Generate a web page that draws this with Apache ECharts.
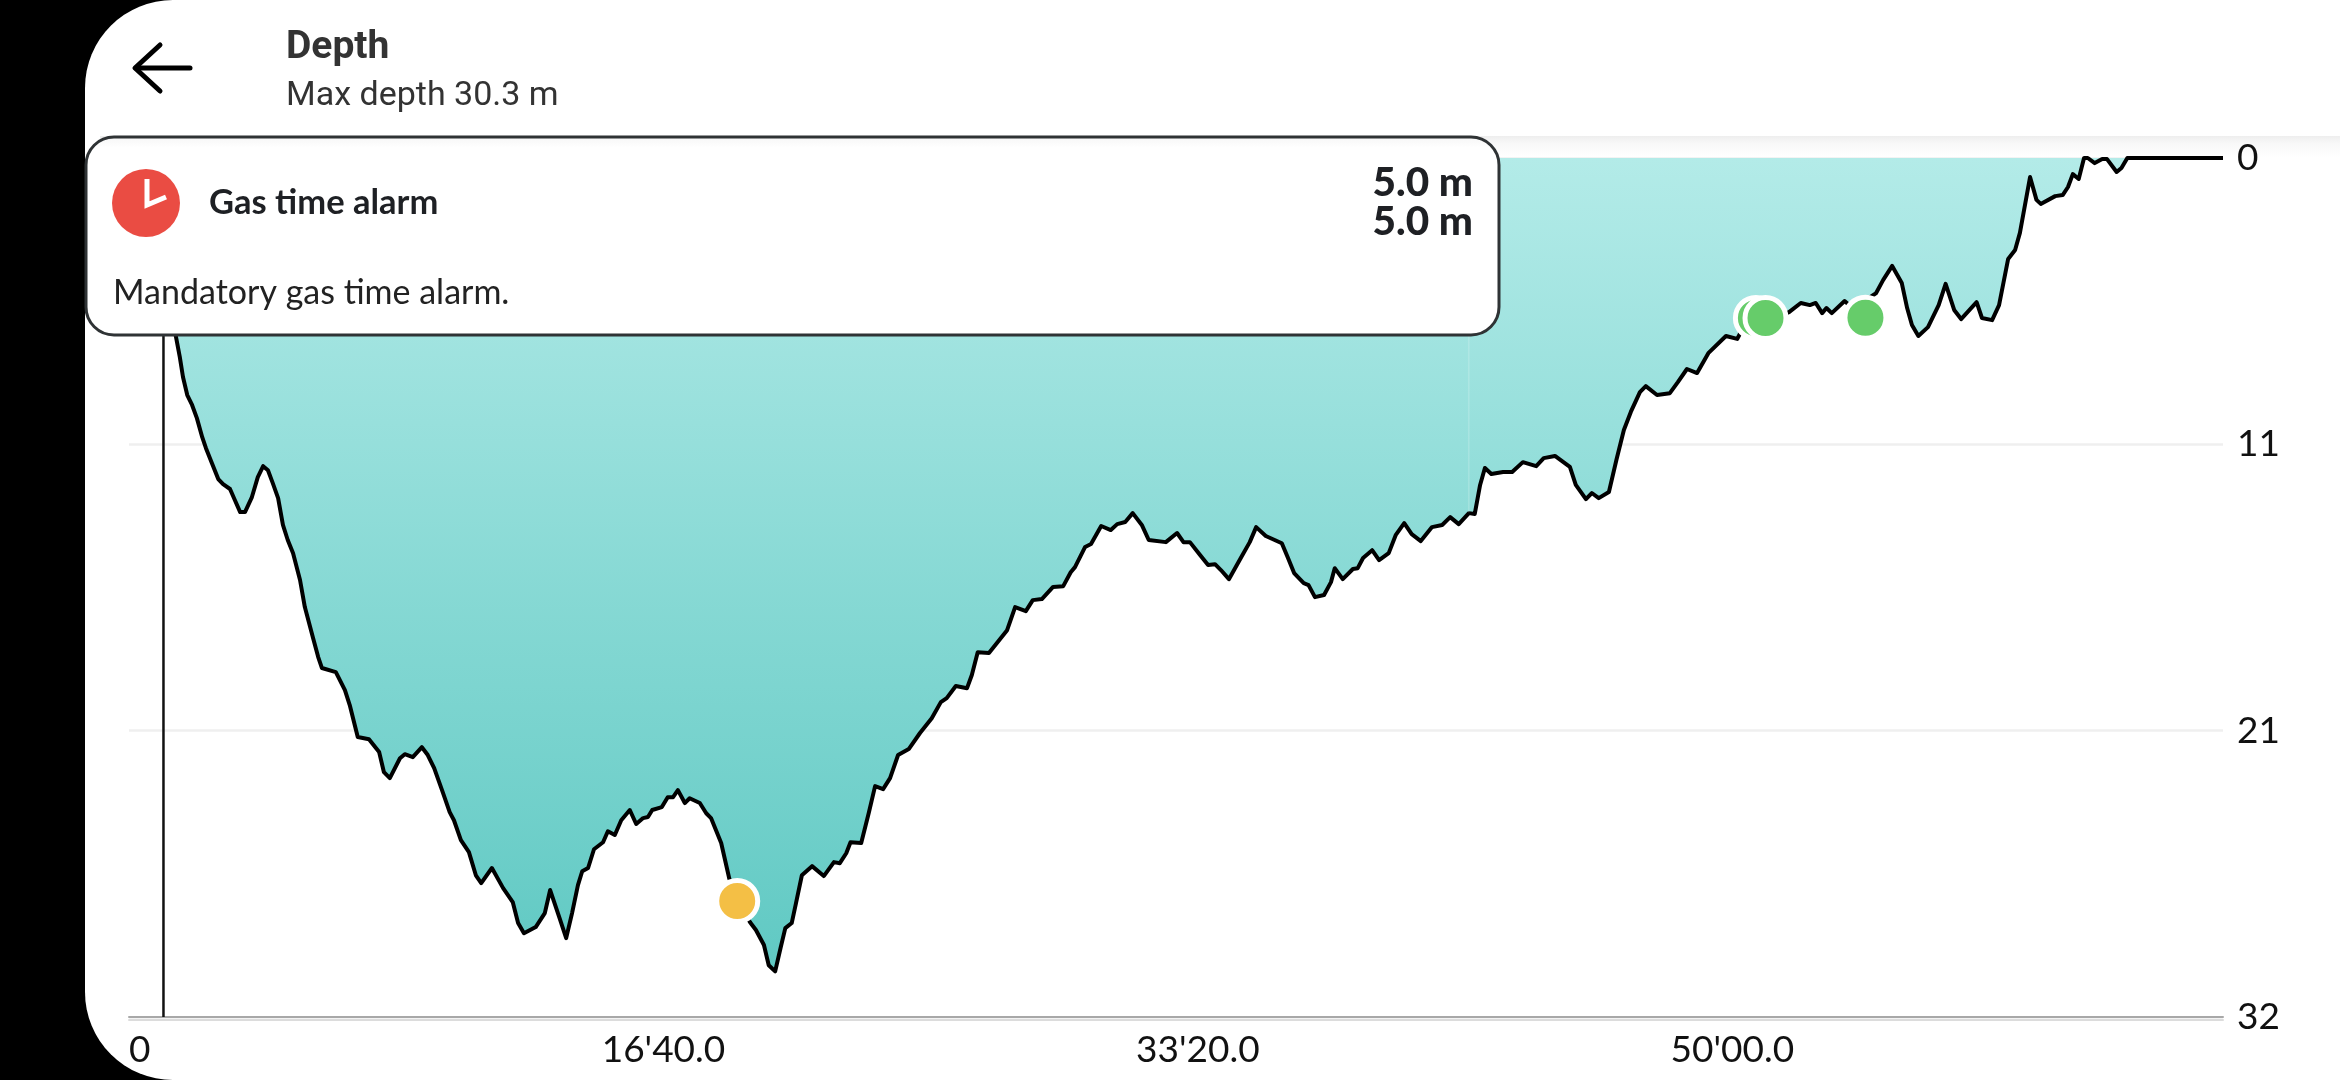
<!DOCTYPE html>
<html><head><meta charset="utf-8">
<style>html,body{margin:0;padding:0;background:#000}#c{width:2340px;height:1080px}</style>
<script src="https://cdn.jsdelivr.net/npm/echarts@6/dist/echarts.min.js"></script>
</head><body><div id="c"></div>
<script>
const timeSeconds=[0,21,58,88,95,101,109,118,127,137,144,155,167,176,189,198,208,217,230,241,251,260,269,279,288,297,307,320,329,344,354,361,387,404,413,428,449,468,477,488,507,516,531,548,559,571,587,600,608,621,636,649,659,679,700,718,728,739,761,778,788,805,818,829,840,848,859,870,887,896,909,921,937,949,962,971,979,997,1008,1018,1027,1040,1049,1068,1080,1089,1108,1123,1138,1162,1173,1188,1197,1209,1219,1228,1240,1248,1259,1278,1300,1319,1330,1342,1350,1370,1384,1396,1411,1424,1439,1459,1480,1502,1519,1530,1547,1568,1577,1588,1609,1643,1658,1678,1691,1708,1729,1748,1762,1770,1789,1800,1819,1837,1849,1864,1878,1895,1908,1940,1961,1973,1985,2004,2019,2032,2043,2058,2081,2097,2109,2127,2157,2168,2180,2198,2207,2219,2236,2249,2256,2271,2290,2299,2309,2326,2339,2357,2370,2386,2400,2417,2438,2457,2472,2488,2507,2518,2528,2537,2549,2571,2588,2608,2633,2647,2668,2696,2707,2726,2737,2750,2769,2783,2797,2810,2827,2838,2859,2883,2898,2915,2934,2955,2988,3009,3018,3043,3061,3080,3106,3128,3145,3156,3168,3176,3186,3210,3229,3250,3269,3282,3299,3317,3327,3336,3348,3366,3386,3399,3415,3428,3457,3467,3486,3499,3516,3529,3538,3557,3569,3577,3604,3618,3628,3637,3648,3658,3665,3678,3692,3701,3719,3728,3739,3918];
const depthMeters=[0,0.45,4.17,6.67,7.41,8.16,8.83,9.20,9.69,10.40,10.81,11.36,11.96,12.15,12.33,12.74,13.19,13.19,12.63,11.89,11.48,11.63,12.11,12.67,13.67,14.23,14.72,15.72,16.73,17.85,18.59,19.00,19.15,19.82,20.38,21.57,21.65,22.13,22.88,23.10,22.36,22.21,22.32,21.95,22.24,22.73,23.62,24.37,24.67,25.41,25.86,26.72,27.01,26.45,27.20,27.72,28.50,28.88,28.65,28.13,27.27,28.28,29.06,28.13,27.09,26.57,26.45,25.75,25.49,25.08,25.22,24.67,24.29,24.81,24.59,24.55,24.29,24.18,23.81,23.81,23.55,24.03,23.85,24.03,24.41,24.59,25.52,26.83,27.65,28.47,28.76,29.32,30.07,30.30,29.44,28.69,28.50,27.76,26.72,26.38,26.75,26.23,26.27,25.90,25.49,25.52,24.41,23.40,23.51,23.10,22.24,22.02,21.42,20.87,20.27,20.12,19.67,19.75,19.26,18.41,18.44,17.59,16.73,16.88,16.47,16.43,15.98,15.95,15.43,15.24,14.49,14.38,13.71,13.86,13.64,13.56,13.23,13.67,14.23,14.31,13.97,14.31,14.31,14.79,15.16,15.13,15.35,15.69,14.87,14.31,13.75,14.08,14.35,14.87,15.46,15.84,15.91,16.36,16.28,15.80,15.28,15.69,15.31,15.28,14.90,14.61,14.98,14.72,14.05,13.60,14.01,14.27,13.75,13.67,13.38,13.64,13.23,13.26,12.18,11.55,11.77,11.70,11.70,11.33,11.48,11.18,11.10,11.51,12.18,12.71,12.48,12.67,12.44,11.25,10.13,9.46,8.72,8.50,8.83,8.76,8.35,7.86,8.01,7.27,6.63,6.74,6.41,6.11,5.89,5.96,5.74,5.40,5.48,5.40,5.78,5.59,5.78,5.33,5.66,5.29,5.03,4.55,4.02,4.66,5.59,6.22,6.63,6.30,5.48,4.69,5.66,6.00,5.37,5.96,6.04,5.48,3.76,3.43,2.79,0.71,1.56,1.71,1.42,1.38,1.08,0.60,0.78,0,0,0.19,0.04,0.04,0.52,0.37,0,0];
const xTickLabels=["0","16'40.0","33'20.0","50'00.0"];
const yTickLabels=["0","11","21","32"];
const warningTimes=[1138];
const warningDepths=[27.68];
const noticeTimes=[3044,3062,3249];
const noticeDepths=[5.96,5.96,5.95];
const cursorTimes=[64.5,64.5];
const cursorDepths=[0,32];
const faintTimes=[2507,2507];
const faintDepths=[0,13.2];
const titleText="Depth";
const subtitleText="Max depth 30.3 m";
const alarmTitle="Gas time alarm";
const alarmBody="Mandatory gas time alarm.";
const alarmValues=["5.0 m","5.0 m"];

const zip=(a,b)=>a.map((v,i)=>[v,b[i]]);
const chart=echarts.init(document.getElementById('c'),null,{renderer:'canvas',width:2340,height:1080});
const dotSeries=(name,xs,ys,color)=>({name,type:'scatter',data:zip(xs,ys),symbol:'circle',symbolSize:41,
  itemStyle:{color,borderColor:'#fff',borderWidth:5,opacity:1},z:6,silent:true,clip:false});
chart.setOption({
  animation:false,
  backgroundColor:'#000',
  title:{text:titleText,subtext:subtitleText,left:286,top:29,itemGap:11,padding:0,
    textStyle:{fontFamily:'Roboto',fontWeight:700,fontSize:39,color:'#333'},
    subtextStyle:{fontFamily:'Roboto',fontWeight:400,fontSize:34,color:'#333'}},
  grid:{left:129,right:117,top:158,bottom:63,containLabel:false},
  xAxis:{type:'value',min:0,max:3918,interval:1000,
    axisLine:{show:true,onZero:false,lineStyle:{color:'#a8a8a8',width:2,shadowColor:'#dcdcdc',shadowOffsetY:3,shadowBlur:0}},
    axisTick:{show:false},splitLine:{show:false},
    axisLabel:{margin:15,fontFamily:'Lato',fontSize:37,color:'#111',alignMinLabel:'left',
      formatter:(v,i)=>xTickLabels[i]??''}},
  yAxis:{type:'value',inverse:true,min:0,max:32,interval:32/3,position:'right',
    axisLine:{show:false},axisTick:{show:false},
    splitLine:{show:true,lineStyle:{color:'#efefef',width:2.5}},
    axisLabel:{margin:14,fontFamily:'Lato',fontSize:37,color:'#111',padding:[0,0,5,0],
      formatter:(v,i)=>yTickLabels[i]??''}},
  series:[
    {name:'Depth',type:'line',data:zip(timeSeconds,depthMeters),showSymbol:false,symbol:'none',sampling:null,z:3,silent:true,
      lineStyle:{color:'#000',width:4,join:'round'},
      areaStyle:{origin:'start',opacity:1,color:{type:'linear',x:0,y:0,x2:0,y2:1,
        colorStops:[{offset:0,color:'#b3ebe8'},{offset:1,color:'#60c9c3'}]}}},
    {name:'Faint',type:'line',data:zip(faintTimes,faintDepths),symbol:'none',silent:true,z:4,
      lineStyle:{color:'rgba(255,255,255,0.28)',width:1}},
    {name:'Cursor',type:'line',data:zip(cursorTimes,cursorDepths),symbol:'none',silent:true,z:4,
      lineStyle:{color:'#111',width:2.5}},
    dotSeries('Notice',noticeTimes,noticeDepths,'#66cc6a'),
    dotSeries('Warning',warningTimes,warningDepths,'#f4bf45')
  ],
  graphic:{elements:[
    {type:'rect',z:-2,silent:true,shape:{x:85,y:0,width:2255,height:1080,r:[88,0,0,88]},style:{fill:'#fff'}},
    {type:'rect',z:-1,silent:true,shape:{x:100,y:136,width:2240,height:21},
      style:{fill:{type:'linear',x:0,y:0,x2:0,y2:1,colorStops:[{offset:0,color:'#eeeeee'},{offset:0.35,color:'#f8f8f8'},{offset:1,color:'#ffffff'}]}}},
    {type:'group',z:20,children:[
      {type:'polyline',z:20,silent:true,shape:{points:[[190,68],[136,68]]},style:{stroke:'#000',lineWidth:5,lineCap:'round',fill:null}},
      {type:'polyline',z:20,silent:true,shape:{points:[[160,45],[135,68],[160,91]]},style:{stroke:'#000',lineWidth:5,lineCap:'round',lineJoin:'round',fill:null}},
      {type:'rect',z:20,silent:true,shape:{x:86,y:137,width:1413,height:198,r:28},
        style:{stroke:'#2f3335',lineWidth:3,fill:{type:'linear',x:0,y:0,x2:0,y2:1,colorStops:[{offset:0,color:'#f5f5f5'},{offset:0.06,color:'#ffffff'},{offset:1,color:'#ffffff'}]}}},
      {type:'circle',z:21,silent:true,shape:{cx:146,cy:203,r:34},style:{fill:'#ea4c43'}},
      {type:'polyline',z:22,silent:true,shape:{points:[[147,179],[147,205],[166,197]]},style:{stroke:'#fff',lineWidth:5,fill:null,lineJoin:'miter'}},
      {type:'text',z:22,silent:true,x:209,y:203,style:{text:alarmTitle,font:'700 34.5px Lato',fill:'#1e2024',verticalAlign:'middle'}},
      {type:'text',z:22,silent:true,x:113,y:293,style:{text:alarmBody,font:'400 34px Lato',fill:'#222',verticalAlign:'middle'}},
      {type:'text',z:22,silent:true,x:1473,y:183,style:{text:alarmValues[0],font:'900 40.5px Lato',fill:'#1e2024',align:'right',verticalAlign:'middle'}},
      {type:'text',z:22,silent:true,x:1473,y:222,style:{text:alarmValues[1],font:'900 40.5px Lato',fill:'#1e2024',align:'right',verticalAlign:'middle'}}
    ]}
  ]}
});
</script></body></html>
